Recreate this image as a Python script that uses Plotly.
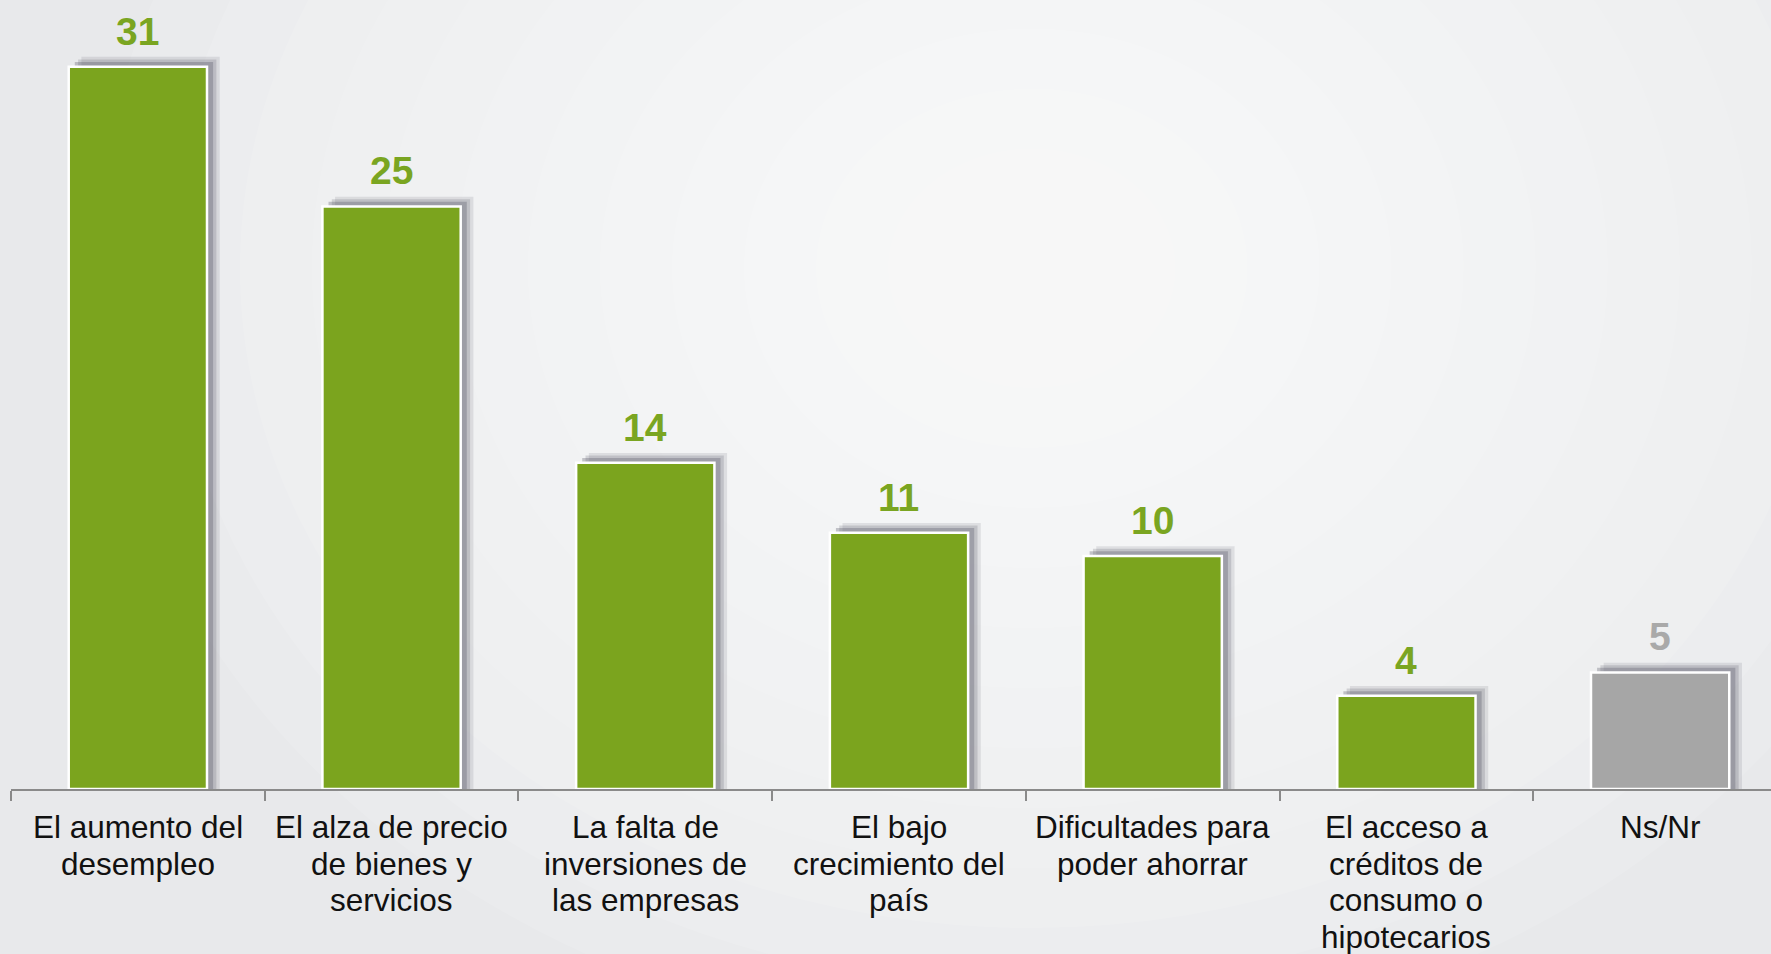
import plotly.graph_objects as go

categories = [
    "El aumento del desempleo",
    "El alza de precio de bienes y servicios",
    "La falta de inversiones de las empresas",
    "El bajo crecimiento del país",
    "Dificultades para poder ahorrar",
    "El acceso a créditos de consumo o hipotecarios",
    "Ns/Nr",
]
label_lines = [
    ["El aumento del", "desempleo"],
    ["El alza de precio", "de bienes y", "servicios"],
    ["La falta de", "inversiones de", "las empresas"],
    ["El bajo", "crecimiento del", "país"],
    ["Dificultades para", "poder ahorrar"],
    ["El acceso a", "créditos de", "consumo o", "hipotecarios"],
    ["Ns/Nr"],
]
values = [31, 25, 14, 11, 10, 4, 5]
is_nsnr = [False, False, False, False, False, False, True]

GREEN = "#7ba41e"
GRAY = "#a6a6a6"
bar_colors = [GRAY if n else GREEN for n in is_nsnr]
text_colors = ["#a9a9a9" if n else "#7aa521" for n in is_nsnr]
FONT = "Liberation Sans, Arial, sans-serif"

BAR_W = 0.545
fig = go.Figure()

# soft shadow layers behind each bar
for dx, dy, op in [(0.050, 0.42, 0.13), (0.037, 0.31, 0.20), (0.024, 0.20, 0.30)]:
    fig.add_trace(go.Bar(
        x=categories, y=[v + dy for v in values],
        width=BAR_W, offset=-BAR_W / 2 + dx,
        marker=dict(color=f"rgba(80,80,95,{op})", line=dict(width=0)),
        hoverinfo="skip", showlegend=False,
    ))

fig.add_trace(go.Bar(
    x=categories, y=values,
    width=BAR_W, offset=-BAR_W / 2,
    marker=dict(color=bar_colors, line=dict(color="#ffffff", width=2.5)),
    showlegend=False,
))

annotations = []
# value labels
for c, v, tc in zip(categories, values, text_colors):
    annotations.append(dict(
        x=c, y=v, xref="x", yref="y",
        text=f"<b>{v}</b>", showarrow=False,
        yanchor="bottom", yshift=12,
        font=dict(family=FONT, size=39, color=tc),
    ))
# category labels (one text per line for the tighter line spacing of the original)
LINE_GAP = 36.5
FIRST = 38
for c, lines in zip(categories, label_lines):
    for j, ln in enumerate(lines):
        annotations.append(dict(
            x=c, y=0, xref="x", yref="y",
            text=ln, showarrow=False,
            yanchor="middle", yshift=-(FIRST + j * LINE_GAP),
            font=dict(family=FONT, size=31.5, color="#111111"),
        ))

# radial light glow in the background
shapes = []
cx, cy = 0.58, 0.66
for r in range(780, 60, -60):
    shapes.append(dict(
        type="circle", xref="paper", yref="paper",
        xsizemode="pixel", ysizemode="pixel",
        xanchor=cx, yanchor=cy,
        x0=-r * 1.2, x1=r * 1.2, y0=-r, y1=r,
        fillcolor="rgba(255,255,255,0.11)", line=dict(width=0),
        layer="below",
    ))

fig.update_layout(
    width=1771, height=954,
    margin=dict(l=11, r=0, t=0, b=165, autoexpand=False),
    paper_bgcolor="#e8e9eb",
    plot_bgcolor="rgba(0,0,0,0)",
    barmode="overlay",
    shapes=shapes,
    annotations=annotations,
    font=dict(family=FONT),
    xaxis=dict(
        range=[-0.5, 6.437], automargin=False,
        showline=True, linecolor="#8a8a8a", linewidth=2,
        ticks="outside", tickson="boundaries", ticklen=10, tickwidth=2, tickcolor="#8a8a8a",
        showticklabels=False,
        showgrid=False, zeroline=False,
    ),
    yaxis=dict(range=[0, 33.86], visible=False, automargin=False, showgrid=False, zeroline=False),
)

fig.write_html(
    "out.html",
    config={"displayModeBar": False},
    post_script="document.body.style.margin='0';document.body.style.padding='0';"
                "document.body.style.background='#e8e9eb';document.body.style.overflow='hidden';",
)
